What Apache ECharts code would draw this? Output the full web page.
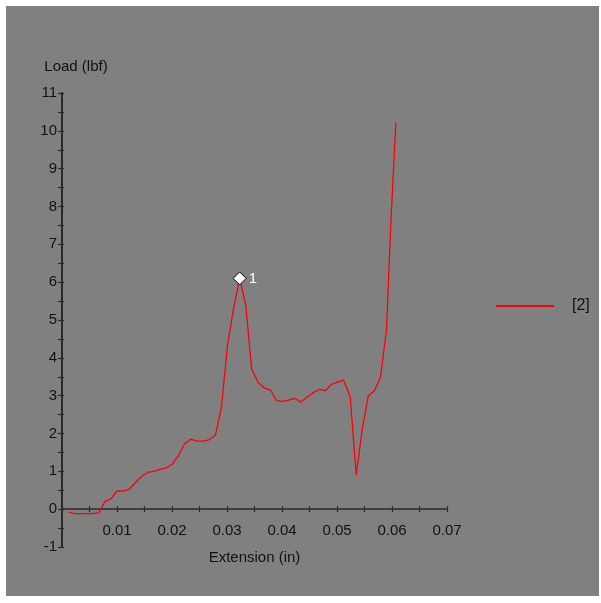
<!DOCTYPE html>
<html>
<head>
<meta charset="utf-8">
<script src="https://cdn.jsdelivr.net/npm/echarts@6/dist/echarts.min.js"></script>
<style>
html,body{margin:0;padding:0;background:#fff;}
#c{width:601px;height:603px;}
</style>
</head>
<body>
<div id="c"></div>
<script>
var extension = [0.0012, 0.0023, 0.0034, 0.0045, 0.0056, 0.0067, 0.0078, 0.0089, 0.0100, 0.0111,
  0.0122, 0.0134, 0.0145, 0.0156, 0.0167, 0.0178, 0.0189, 0.0200, 0.0211, 0.0223,
  0.0234, 0.0245, 0.0256, 0.0267, 0.0279, 0.0290, 0.0301, 0.0312, 0.0323, 0.0334,
  0.0345, 0.0357, 0.0368, 0.0379, 0.0390, 0.0401, 0.0412, 0.0423, 0.0434, 0.0445,
  0.0457, 0.0468, 0.0479, 0.0490, 0.0501, 0.0512, 0.0524, 0.0535, 0.0546, 0.0557,
  0.0568, 0.0579, 0.0590, 0.0598, 0.0607];
var load = [-0.08, -0.12, -0.12, -0.12, -0.12, -0.09, 0.2, 0.27, 0.48, 0.48,
  0.52, 0.71, 0.87, 0.97, 1.0, 1.05, 1.09, 1.18, 1.4, 1.73,
  1.85, 1.8, 1.8, 1.83, 1.96, 2.7, 4.34, 5.31, 6.1, 5.4,
  3.7, 3.34, 3.2, 3.15, 2.87, 2.85, 2.88, 2.93, 2.83, 2.95,
  3.08, 3.17, 3.13, 3.3, 3.36, 3.41, 2.97, 0.9, 2.13, 3.0,
  3.13, 3.48, 4.74, 7.6, 10.22];
var seriesName = '[2]';
var markerIndex = 28;
var markerLabel = '1';
var xTitle = 'Extension (in)';
var yTitle = 'Load (lbf)';

var pts = extension.map(function (x, i) { return [x, load[i]]; });
var font = 'Arial, "Liberation Sans", sans-serif';
var axisCol = '#2a2a2a';
var txtCol = '#111';

var xBase = {type: 'value', min: 0, max: 0.07, interval: 0.01, splitLine: {show: false}};
var yBase = {type: 'value', min: -1, max: 11, interval: 1, splitLine: {show: false}};
var tickStyle = {color: axisCol, width: 1.2};

var chart = echarts.init(document.getElementById('c'), null, {renderer: 'canvas'});
chart.setOption({
  backgroundColor: '#ffffff',
  animation: false,
  textStyle: {fontFamily: font},
  graphic: [{
    type: 'rect', left: 6, top: 6, z: -10,
    shape: {width: 593, height: 590},
    style: {fill: '#808080'}
  }],
  grid: {left: 62, right: 154, top: 93, bottom: 56, containLabel: false, outerBoundsMode: 'none'},
  legend: {
    left: 491, top: 293, padding: 5,
    itemWidth: 58, itemHeight: 2, itemGap: 10,
    textStyle: {color: txtCol, fontSize: 16, fontFamily: font, padding: [0, 0, 0, 13]},
    data: [{name: seriesName, icon: 'rect'}]
  },
  xAxis: [
    Object.assign({}, xBase, {
      axisLine: {onZero: true, lineStyle: {color: axisCol, width: 1.5}},
      axisTick: {show: true, inside: false, length: 3, lineStyle: tickStyle},
      minorTick: {show: true, splitNumber: 2, length: 3, lineStyle: tickStyle},
      axisLabel: {show: false}
    }),
    Object.assign({}, xBase, {
      position: 'bottom', offset: -38,
      name: xTitle, nameLocation: 'middle', nameGap: 41,
      nameTextStyle: {color: txtCol, fontSize: 15, fontFamily: font},
      axisLine: {show: false, onZero: false},
      axisTick: {show: true, inside: true, length: 3, lineStyle: tickStyle},
      minorTick: {show: true, splitNumber: 2, length: 3, lineStyle: tickStyle},
      axisLabel: {color: txtCol, fontSize: 15, margin: 14, fontFamily: font,
        formatter: function (v) { return v === 0 ? '' : v.toFixed(2); }}
    })
  ],
  yAxis: [
    Object.assign({}, yBase, {
      position: 'left',
      name: yTitle, nameLocation: 'end', nameGap: 19,
      nameTextStyle: {color: txtCol, fontSize: 15, fontFamily: font, align: 'center', padding: [0, 0, 0, 28]},
      axisLine: {show: true, onZero: false, lineStyle: {color: axisCol, width: 2}},
      axisTick: {show: true, inside: false, length: 4, lineStyle: tickStyle},
      minorTick: {show: true, splitNumber: 2, length: 4, lineStyle: tickStyle},
      axisLabel: {color: txtCol, fontSize: 15, margin: 5, fontFamily: font}
    }),
    Object.assign({}, yBase, {
      position: 'left', offset: 0,
      axisLine: {show: false, onZero: false},
      axisTick: {show: true, inside: true, length: 2, lineStyle: tickStyle},
      minorTick: {show: true, splitNumber: 2, length: 2, lineStyle: tickStyle},
      axisLabel: {show: false}
    })
  ],
  series: [{
    name: seriesName,
    type: 'line',
    xAxisIndex: 0, yAxisIndex: 0,
    data: pts,
    symbol: 'none',
    lineStyle: {color: '#ff0000', width: 1.3},
    itemStyle: {color: '#ff0000'},
    markPoint: {
      symbol: 'diamond', symbolSize: [13, 13],
      itemStyle: {color: '#ffffff', borderColor: '#000000', borderWidth: 1},
      label: {show: true, position: 'right', distance: 2, color: '#ffffff', fontSize: 15,
        fontFamily: font, formatter: markerLabel},
      data: [{coord: [extension[markerIndex], load[markerIndex]]}]
    }
  }]
});
</script>
</body>
</html>
